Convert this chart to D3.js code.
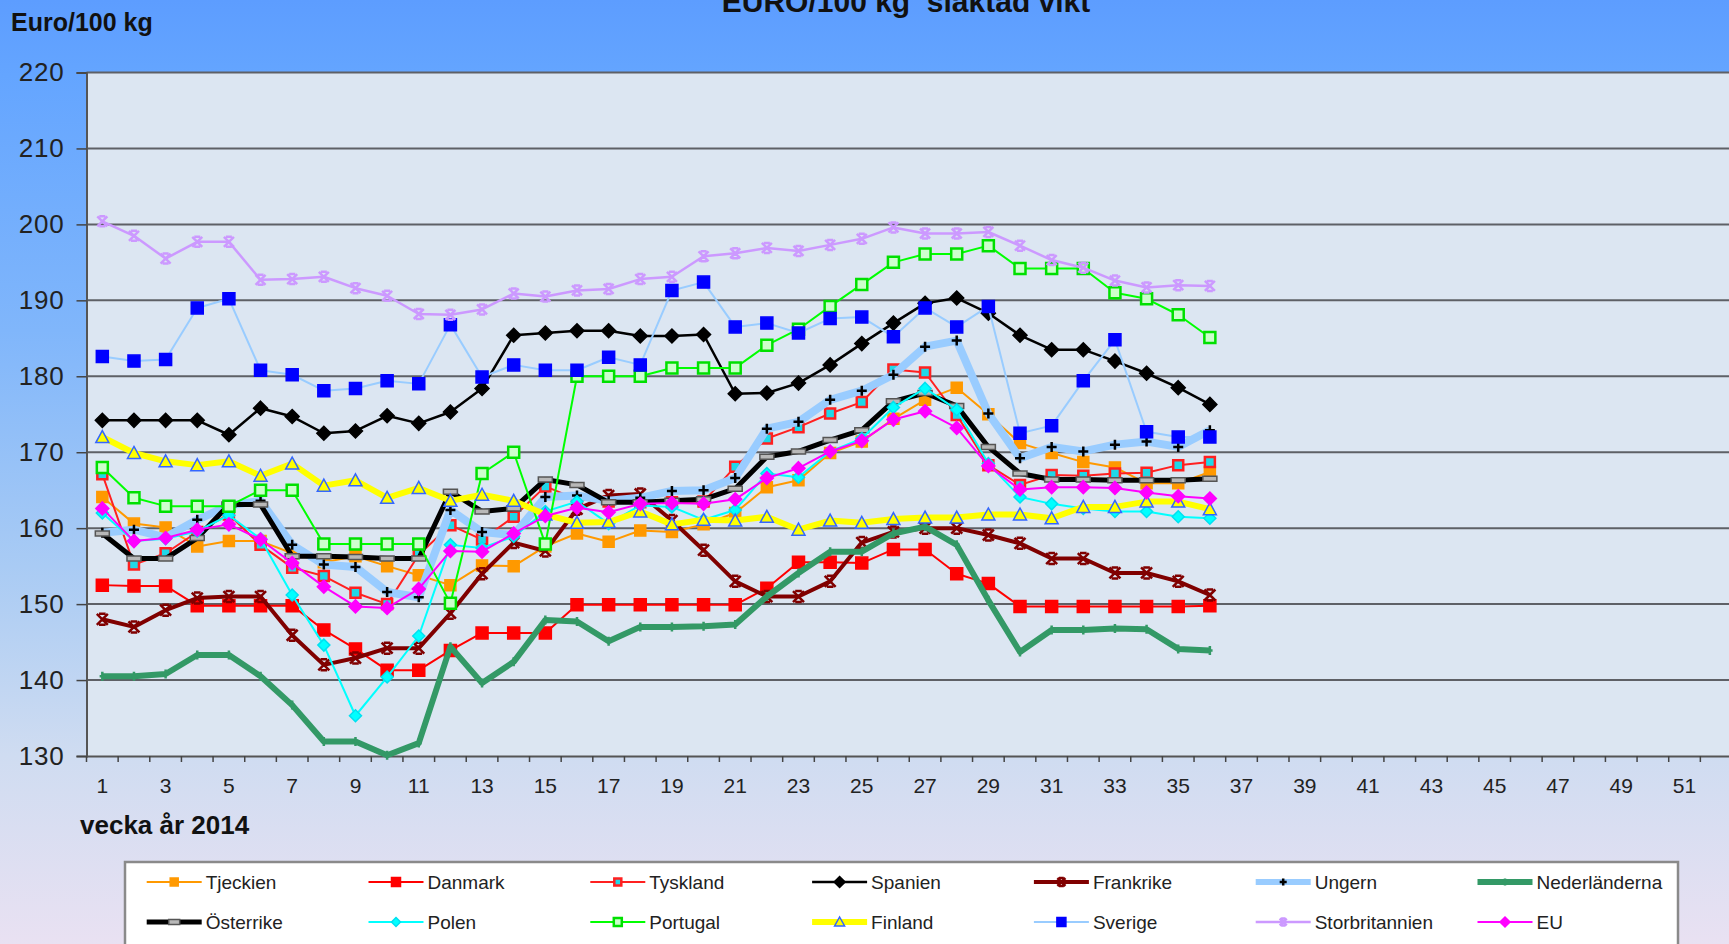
<!DOCTYPE html>
<html><head><meta charset="utf-8">
<script src="https://cdn.jsdelivr.net/npm/d3@7"></script>
<style>body{margin:0;overflow:hidden}svg{display:block;font-family:"Liberation Sans",Arial,sans-serif}</style>
</head><body><svg id="c" width="1729" height="944"></svg>
<script>
const weeks = d3.range(1, 37);
const allWeeks = d3.range(1, 53);
const xTickLabels = d3.range(1, 52, 2);
const yTickValues = [130,140,150,160,170,180,190,200,210,220];

const tjeckien = [164.1,160.6,160.1,157.6,158.3,158.3,156.7,155.5,156.3,155.0,153.8,152.5,155.1,155.0,157.6,159.3,158.2,159.7,159.5,160.5,162.0,165.4,166.3,169.9,171.4,174.4,176.9,178.5,175.0,171.2,169.9,168.7,168.0,165.9,165.9,167.4];
const danmark = [152.5,152.4,152.4,149.8,149.8,149.8,149.8,146.6,144.1,141.3,141.3,143.9,146.2,146.2,146.2,149.9,149.9,149.9,149.9,149.9,149.9,152.1,155.5,155.5,155.4,157.2,157.2,154.0,152.7,149.7,149.7,149.7,149.7,149.7,149.7,149.8];
const tyskland = [167.1,155.2,156.7,159.5,161.8,157.8,154.8,153.7,151.5,150.0,156.5,160.4,158.5,161.5,165.5,163.8,163.5,163.4,163.4,163.5,168.1,171.8,173.3,175.1,176.6,180.9,180.5,174.9,168.3,165.7,167.0,166.9,167.2,167.3,168.3,168.7];
const spanien = [174.2,174.2,174.2,174.2,172.3,175.8,174.7,172.5,172.8,174.8,173.8,175.3,178.4,185.4,185.7,186.0,186.0,185.3,185.3,185.5,177.7,177.8,179.1,181.5,184.3,187.0,189.6,190.3,188.3,185.4,183.5,183.5,182.0,180.4,178.5,176.3];
const frankrike = [148.0,147.0,149.2,150.8,151.0,151.0,145.9,142.0,142.9,144.2,144.2,148.8,154.0,158.1,157.0,162.5,164.3,164.5,161.0,157.1,153.0,151.0,151.0,153.0,158.1,159.5,160.0,160.0,159.1,158.0,156.0,156.0,154.1,154.1,153.0,151.2];
const ungern = [159.4,159.8,158.8,161.1,163.0,163.6,157.8,155.2,154.9,151.6,150.9,162.4,159.5,159.1,164.1,164.3,163.6,164.0,164.9,165.0,166.6,173.1,174.0,176.9,178.1,180.2,183.9,184.7,175.1,169.2,170.7,170.1,171.0,171.4,170.7,172.9];
const nederlanderna = [140.5,140.5,140.8,143.3,143.3,140.5,136.7,131.9,131.9,130.1,131.7,144.4,139.6,142.4,147.9,147.7,145.1,147.0,147.0,147.1,147.3,151.0,154.1,156.9,156.9,159.3,160.2,157.8,150.5,143.7,146.6,146.6,146.8,146.7,144.1,143.9];
const osterrike = [159.3,156.0,156.0,158.7,163.1,163.1,156.3,156.3,156.2,156.0,156.0,164.8,162.2,162.6,166.4,165.7,163.4,163.4,163.6,163.8,165.2,169.4,170.1,171.6,172.9,176.7,177.8,176.1,170.7,167.2,166.4,166.4,166.3,166.3,166.3,166.5];
const polen = [162.0,158.3,158.6,159.6,161.7,158.6,151.2,144.6,135.3,140.4,145.8,157.8,157.4,158.9,162.2,163.5,160.6,163.0,162.8,161.1,162.4,167.2,166.7,170.1,171.8,175.9,178.4,175.6,168.5,164.1,163.2,162.6,162.2,162.2,161.5,161.3];
const portugal = [168.0,164.0,162.9,162.9,162.9,165.0,165.0,157.9,157.9,157.9,157.9,150.1,167.2,170.0,157.9,180.0,180.0,180.0,181.1,181.1,181.1,184.1,186.2,189.2,192.1,195.0,196.1,196.1,197.2,194.2,194.2,194.2,191.0,190.2,188.1,185.1];
const finland = [172.0,169.9,168.8,168.3,168.8,166.9,168.5,165.6,166.3,164.0,165.3,163.6,164.4,163.6,161.8,160.7,160.8,162.2,160.5,161.1,161.0,161.5,159.8,161.0,160.7,161.2,161.4,161.4,161.8,161.8,161.3,162.8,162.8,163.5,163.5,162.5];
const sverige = [182.6,182.0,182.2,189.0,190.2,180.8,180.2,178.1,178.4,179.4,179.0,186.8,179.9,181.5,180.8,180.8,182.5,181.5,191.3,192.4,186.5,187.0,185.7,187.6,187.8,185.2,189.0,186.5,189.2,172.5,173.5,179.4,184.8,172.7,172.0,172.0];
const storbritannien = [200.4,198.5,195.5,197.7,197.7,192.7,192.8,193.1,191.6,190.6,188.2,188.1,188.8,190.9,190.5,191.3,191.5,192.8,193.1,195.8,196.2,196.9,196.5,197.3,198.1,199.6,198.8,198.8,199.0,197.2,195.3,194.3,192.6,191.7,192.0,191.9];
const eu = [162.6,158.3,158.7,159.8,160.5,158.5,155.4,152.3,149.7,149.5,152.0,157.0,156.9,159.3,161.6,162.7,162.1,163.2,163.3,163.2,163.8,166.6,167.9,170.1,171.5,174.3,175.4,173.2,168.2,165.1,165.4,165.4,165.3,164.7,164.2,163.9];

const series = [
  {name:"Tjeckien", values:tjeckien, color:"#ff9900", w:2, m:"square", mf:"#ff9900", ms:"#ff9900", sz:11},
  {name:"Danmark", values:danmark, color:"#ff0000", w:2, m:"square", mf:"#ff0000", ms:"#ff0000", sz:12},
  {name:"Tyskland", values:tyskland, color:"#ff2020", w:2, m:"square", mf:"#20d8e8", ms:"#ff2020", sz:10},
  {name:"Spanien", values:spanien, color:"#000000", w:2.5, m:"diamond", mf:"#000000", ms:"#000000", sz:12},
  {name:"Frankrike", values:frankrike, color:"#800000", w:4, m:"star", mf:"none", ms:"#800000", sz:11},
  {name:"Ungern", values:ungern, color:"#99ccff", w:8, m:"plus", mf:"none", ms:"#000000", sz:10},
  {name:"Nederländerna", values:nederlanderna, color:"#339966", w:6, m:"tick", mf:"none", ms:"#339966", sz:9},
  {name:"Österrike", values:osterrike, color:"#000000", w:5, m:"dash", mf:"#b8b8b8", ms:"#555555", sz:14},
  {name:"Polen", values:polen, color:"#00ffff", w:2, m:"diamond", mf:"#00ffff", ms:"#00e0f0", sz:10},
  {name:"Portugal", values:portugal, color:"#00ff00", w:2, m:"square", mf:"#ccffcc", ms:"#00e000", sz:11},
  {name:"Finland", values:finland, color:"#ffff00", w:6, m:"triangle", mf:"#ffff00", ms:"#3366ff", sz:11},
  {name:"Sverige", values:sverige, color:"#99ccff", w:2, m:"square", mf:"#0000ff", ms:"#0000ff", sz:12},
  {name:"Storbritannien", values:storbritannien, color:"#cc99ff", w:2.5, m:"star", mf:"none", ms:"#cc99ff", sz:10},
  {name:"EU", values:eu, color:"#ff00ff", w:2, m:"diamond", mf:"#ff00ff", ms:"#ff00ff", sz:11}
];

const svg = d3.select("#c");
const W = 1729, H = 944;
const L = 86.5, R = 1732, T = 72.5, B = 756;

const defs = svg.append("defs");
const g = defs.append("linearGradient").attr("id","bg").attr("x1",0).attr("y1",0).attr("x2",0).attr("y2",1);
[["0%","#5d9dff"],["8%","#64a5ff"],["35%","#80b6fb"],["60%","#a9cbf4"],["80%","#cfdcf1"],["100%","#e9e1f2"]]
  .forEach(s=>g.append("stop").attr("offset",s[0]).attr("stop-color",s[1]));
svg.append("rect").attr("width",W).attr("height",H).attr("fill","url(#bg)");

const x = d3.scaleBand().domain(allWeeks).range([L, R]).padding(0);
const cx = w => x(w) + x.bandwidth()/2;
const y = d3.scaleLinear().domain([130,220]).range([B, T]);
const xb = d3.scaleLinear().domain([0,52]).range([L, R]);

svg.append("rect").attr("x",L).attr("y",T).attr("width",R-L).attr("height",B-T).attr("fill","#dce6f2");

svg.append("g").selectAll("line").data(yTickValues.filter(v=>v>130)).join("line")
  .attr("x1",L).attr("x2",R).attr("y1",d=>y(d)).attr("y2",d=>y(d))
  .attr("stroke","#5e6066").attr("stroke-width",2);

const yAxis = svg.append("g").attr("transform",`translate(${L},0)`)
  .call(d3.axisLeft(y).tickValues(yTickValues).tickSize(10).tickPadding(12).tickFormat(d3.format("d")));
yAxis.select(".domain").attr("stroke","#555").attr("stroke-width",2);
yAxis.selectAll(".tick line").attr("stroke","#444").attr("stroke-width",1.5);
yAxis.selectAll(".tick text").attr("font-size",26).attr("fill","#222").attr("font-family","Liberation Sans, Arial")
  .attr("letter-spacing",0.8);

const xAxis = svg.append("g").attr("transform",`translate(0,${B})`)
  .call(d3.axisBottom(x).tickValues(xTickLabels).tickSize(0).tickPadding(22));
xAxis.select(".domain").attr("stroke","#555").attr("stroke-width",2);
xAxis.selectAll(".tick text").attr("font-size",21).attr("fill","#222").attr("font-family","Liberation Sans, Arial");
svg.append("g").selectAll("line").data(d3.range(0,53)).join("line")
  .attr("x1",d=>xb(d)).attr("x2",d=>xb(d)).attr("y1",B).attr("y2",B+6)
  .attr("stroke","#444").attr("stroke-width",1.5);

function markerPath(m, s){
  const h = s/2;
  switch(m){
    case "square": return `M${-h},${-h}H${h}V${h}H${-h}Z`;
    case "diamond": return `M0,${-h-1}L${h+1},0L0,${h+1}L${-h-1},0Z`;
    case "triangle": return `M0,${-h-1}L${h+1},${h}L${-h-1},${h}Z`;
    case "plus": return `M${-h},0H${h}M0,${-h}V${h}`;
    case "tick": return `M0,${-h}V${h}M${-h*0.6},0H${h*0.6}`;
    case "dash": return `M${-h},-2.5H${h}V2.5H${-h}Z`;
    case "star": return `M${-h},${-h}L${h},${h}M${h},${-h}L${-h},${h}M${-h*0.6},${-h}H${h*0.6}M${-h*0.6},${h}H${h*0.6}`;
  }
}
function drawMarker(sel, s, px, py){
  const open = (s.m==="plus"||s.m==="tick"||s.m==="star");
  sel.append("path").attr("d",markerPath(s.m,s.sz)).attr("transform",`translate(${px},${py})`)
    .attr("fill",open?"none":s.mf).attr("stroke",s.ms)
    .attr("stroke-width", s.m==="square"&&s.mf!==s.ms ? 2.5 : (open?2.5:1.5));
}

const line = d3.line().x((d,i)=>cx(weeks[i])).y(d=>y(d));
const plot = svg.append("g");
series.forEach(s=>{
  const gs = plot.append("g");
  gs.append("path").attr("d",line(s.values)).attr("fill","none").attr("stroke",s.color)
    .attr("stroke-width",s.w).attr("stroke-linejoin","round");
  s.values.forEach((v,i)=>drawMarker(gs, s, cx(weeks[i]), y(v)));
});

svg.append("text").attr("x",906).attr("y",12).attr("text-anchor","middle").attr("font-weight","bold")
  .attr("font-size",30).attr("fill","#111").style("white-space","pre").text("EURO/100 kg  slaktad vikt");
svg.append("text").attr("x",11).attr("y",31).attr("font-weight","bold").attr("font-size",25)
  .attr("fill","#111").text("Euro/100 kg");
svg.append("text").attr("x",80).attr("y",834).attr("font-weight","bold").attr("font-size",26)
  .attr("fill","#111").text("vecka år 2014");

svg.append("rect").attr("x",125).attr("y",862).attr("width",1553).attr("height",110)
  .attr("fill","#ffffff").attr("stroke","#8a8a8a").attr("stroke-width",2.5);
const colX = d3.range(7).map(i=>146.7 + i*221.8);
const rowY = [882, 922];
series.forEach((s,i)=>{
  const lx = colX[i%7], ly = rowY[Math.floor(i/7)];
  const lg = svg.append("g");
  lg.append("line").attr("x1",lx).attr("x2",lx+55).attr("y1",ly).attr("y2",ly)
    .attr("stroke",s.color).attr("stroke-width",Math.min(s.w,6));
  drawMarker(lg, Object.assign({}, s, {sz: Math.max(7, s.sz-3)}), lx+27.5, ly);
  lg.append("text").attr("x",lx+59).attr("y",ly+7).attr("font-size",19).attr("fill","#222").text(s.name);
});
</script></body></html>
